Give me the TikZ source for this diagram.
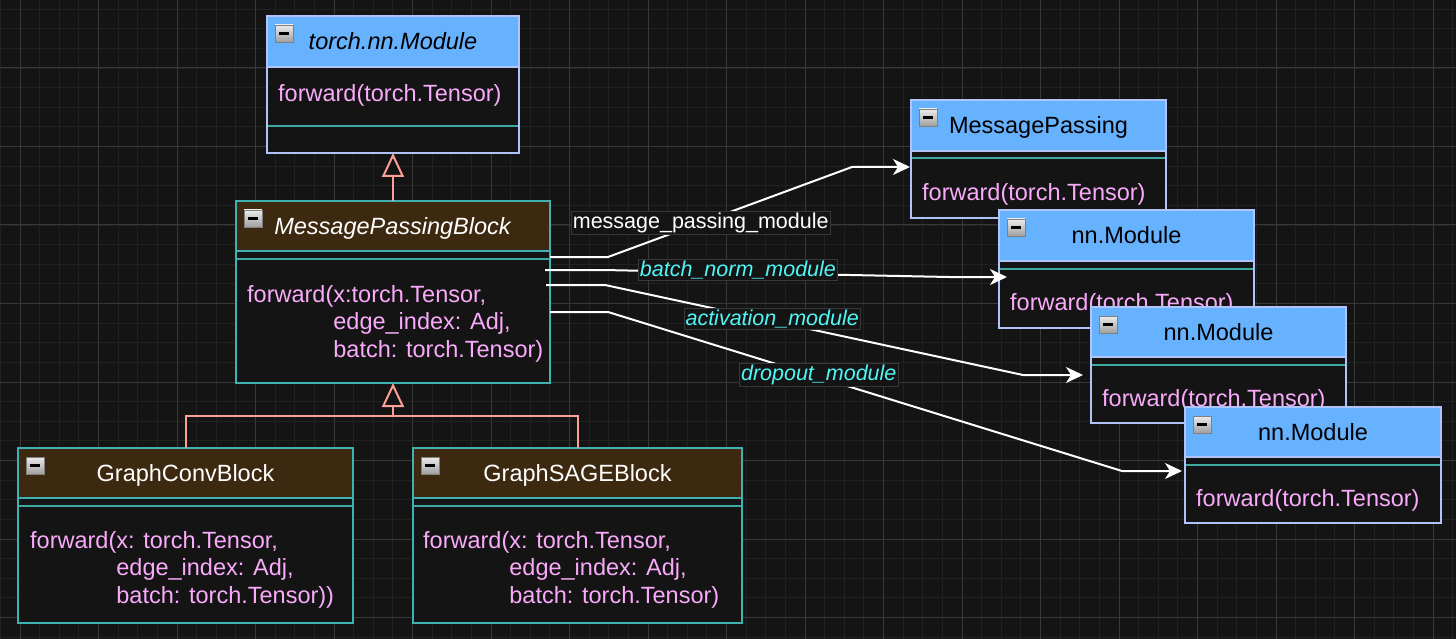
\documentclass[tikz,border=0pt]{standalone}
\usepackage{fontspec}
\setmainfont{Liberation Sans}
\usetikzlibrary{arrows.meta,calc}

\definecolor{bg}{RGB}{20,20,20}
\definecolor{gridminor}{RGB}{33,33,33}
\definecolor{gridmajor}{RGB}{56,56,56}
\definecolor{skyblue}{RGB}{102,178,255}
\definecolor{lavender}{RGB}{176,196,250}
\definecolor{barkbrown}{RGB}{61,41,16}
\definecolor{frameteal}{RGB}{62,178,178}
\definecolor{septeal}{RGB}{60,170,160}
\definecolor{methodpink}{RGB}{250,170,250}
\definecolor{salmon}{RGB}{250,160,150}
\definecolor{aqua}{RGB}{80,245,245}

\tikzset{
  minorgrid/.style={draw=gridminor, line width=0.8pt},
  majorgrid/.style={draw=gridmajor, line width=1pt},
  sky head/.style={fill=skyblue},
  sky edge/.style={draw=lavender, line width=1.6pt},
  sky title/.style={text=black},
  bark head/.style={fill=barkbrown},
  bark edge/.style={draw=frameteal, line width=1.6pt},
  bark title/.style={text=white},
  sepline/.style={draw=septeal, line width=1.6pt},
  minusicon/.style={top color=gray!15, bottom color=gray!75, draw=gray, line width=0.8pt},
  classtitle/.style={inner sep=0pt, font=\fontsize{23.5}{27.5}\selectfont, text height=16.8pt, text depth=0pt},
  method/.style={inner sep=0pt, anchor=base west, text=methodpink, font=\fontsize{23.5}{27.5}\selectfont},
  inherit/.style={draw=salmon, line width=2pt},
  link/.style={draw=white, line width=2pt, -{Stealth[length=17pt,width=16pt,inset=5pt]}},
  linklabel/.style={fill=bg, draw=gridmajor, line width=0.6pt, inner sep=1.5pt, text=white, font=\fontsize{21.5}{24}\selectfont},
  attrlabel/.style={linklabel, text=aqua, font=\fontsize{21.5}{24}\selectfont\itshape},
}

% #1 name, #2 top left, #3 width, #4 height, #5 header height, #6 kind, #7 title, #8 separator
\newcommand{\classbox}[8]{%
  \node[fill=bg, inner sep=0pt, outer sep=0pt, minimum width=#3pt, minimum height=#4pt, anchor=north west] (#1) at (#2) {};
  \fill[#6 head] (#1.north west) rectangle ($(#1.north east)+(0,#5)$);
  \draw[#6 edge] ($(#1.north west)+(0,#5)$) -- ($(#1.north east)+(0,#5)$);
  \draw[sepline] ($(#1.north west)+(0,#8)$) -- ($(#1.north east)+(0,#8)$);
  \draw[#6 edge] (#1.north west) rectangle (#1.south east);
  \shade[minusicon] ($(#1.north west)+(8,9)$) rectangle ++(18,17);
  \fill[black] ($(#1.north west)+(12,16)$) rectangle ++(10,3);
  \node[classtitle, #6 title] (#1-title) at ($(#1.north)+(0,#5/2)$) {#7};
}

\begin{document}
\begin{tikzpicture}[x=1pt,y=-1pt]

\useasboundingbox (0,0) rectangle (1456,639);
\fill[bg] (0,0) rectangle (1456,639);

% background grid
\foreach \gx in {0.375,20,...,1456} \draw[minorgrid] (\gx,0) -- (\gx,639);
\foreach \gy in {-10.5,9.125,...,639} \draw[minorgrid] (0,\gy) -- (1456,\gy);
\foreach \gx in {20,98.5,...,1456} \draw[majorgrid] (\gx,0) -- (\gx,639);
\foreach \gy in {-10.5,68,...,639} \draw[majorgrid] (0,\gy) -- (1456,\gy);

% class hierarchy
\classbox{module}{267,16}{252}{137}{51}{sky}{\textit{torch.nn.Module}}{110}
\node[method] (module-fwd) at ($(module.north west)+(11,86)$) {forward(torch.Tensor)};

\classbox{mpb}{236,201}{314}{182}{50}{bark}{\textit{MessagePassingBlock}}{58}
\node[method] (mpb-fwd) at ($(mpb.north west)+(11,101)$) {\begin{tabular}[t]{@{}l@{}}
  forward(x:torch.Tensor,\\
  \phantom{forward(}edge\_index: Adj,\\
  \phantom{forward(}batch: torch.Tensor)\end{tabular}};

\classbox{gcb}{18,448}{335}{175}{50}{bark}{GraphConvBlock}{58}
\node[method] (gcb-fwd) at ($(gcb.north west)+(12,100)$) {\begin{tabular}[t]{@{}l@{}}
  forward(x: torch.Tensor,\\
  \phantom{forward(}edge\_index: Adj,\\
  \phantom{forward(}batch: torch.Tensor))\end{tabular}};

\classbox{gsb}{413,448}{329}{175}{50}{bark}{GraphSAGEBlock}{58}
\node[method] (gsb-fwd) at ($(gsb.north west)+(10,100)$) {\begin{tabular}[t]{@{}l@{}}
  forward(x: torch.Tensor,\\
  \phantom{forward(}edge\_index: Adj,\\
  \phantom{forward(}batch: torch.Tensor)\end{tabular}};

% submodules
\classbox{mp}{911,100}{255}{118}{51}{sky}{MessagePassing}{58}
\node[method] (mp-fwd) at ($(mp.north west)+(11,101)$) {forward(torch.Tensor)};

\classbox{nn1}{999,210}{255}{118}{51}{sky}{nn.Module}{59}
\node[method] (nn1-fwd) at ($(nn1.north west)+(11,100)$) {forward(torch.Tensor)};

\classbox{nn2}{1091,307}{255}{116}{50}{sky}{nn.Module}{58}
\node[method] (nn2-fwd) at ($(nn2.north west)+(11,99)$) {forward(torch.Tensor)};

\classbox{nn3}{1185,407}{256}{116}{50}{sky}{nn.Module}{58}
\node[method] (nn3-fwd) at ($(nn3.north west)+(11,99)$) {forward(torch.Tensor)};

% inheritance
\draw[inherit, -{Triangle[open, fill=bg, length=24pt, width=22pt]}] (mpb.north) -- (module.south);
\coordinate (fork) at ($(mpb.south)+(0,33)$);
\draw[inherit] (gcb.north) |- (fork) -| (gsb.north);
\draw[inherit, -{Triangle[open, fill=bg, length=24pt, width=22pt]}] (fork) -- (mpb.south);

% composition links
\draw[link] ($(mpb.north east)+(0,56)$) -- ++(58,0)
  -- node[linklabel, pos=0.38] (lbl-mp) {message\_passing\_module} ($(mp.north west)+(-59,67)$)
  -- ($(mp.north west)+(-1,67)$);
\draw[link] ($(mpb.north east)+(-5,69)$) -- ++(58,0)
  -- node[attrlabel, pos=0.39, yshift=3pt] (lbl-bn) {batch\_norm\_module} ($(nn1.north west)+(-50,67)$)
  -- ($(nn1.north west)+(8,67)$);
\draw[link] ($(mpb.north east)+(-4,84)$) -- ++(59,0)
  -- node[attrlabel, pos=0.40, yshift=2pt] (lbl-act) {activation\_module} ($(nn2.north west)+(-68,68)$)
  -- ($(nn2.north west)+(-8,68)$);
\draw[link] ($(mpb.north east)+(0,111)$) -- ++(58,0)
  -- node[attrlabel, pos=0.41, yshift=2pt] (lbl-drop) {dropout\_module} ($(nn3.north west)+(-63,64)$)
  -- ($(nn3.north west)+(-3,64)$);

\end{tikzpicture}
\end{document}
